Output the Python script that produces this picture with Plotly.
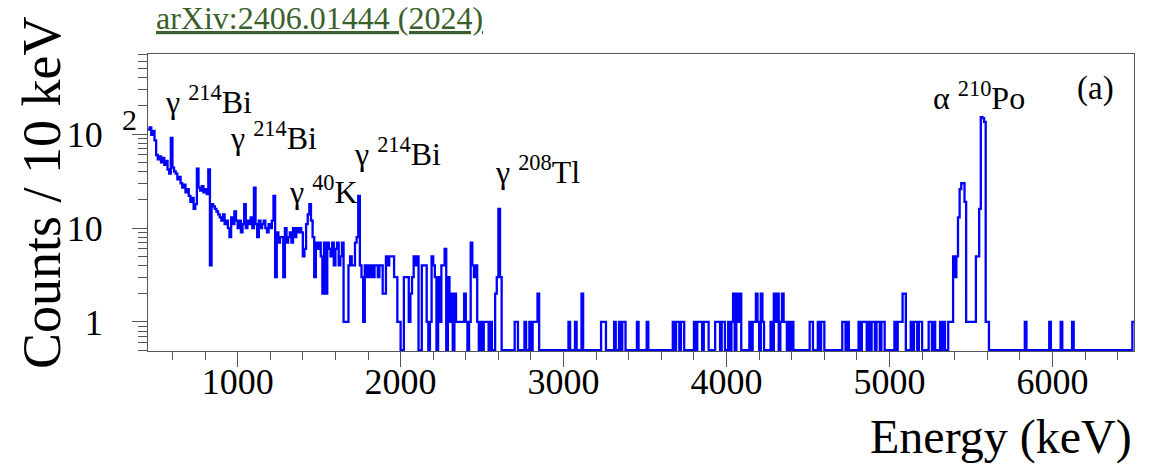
import numpy as np
import plotly.graph_objects as go

# Energy spectrum, 10 keV bins starting at 450 keV
BIN_START = 450
BIN_WIDTH = 10

counts_450_1950 = [
    112, 118, 98, 108, 86, 60, 54, 58, 50, 56,
    47, 52, 42, 38, 91, 44, 40, 38, 33, 35,
    30, 27, 29, 24, 26, 22, 19, 21, 16, 18,
    43, 27, 25, 28, 24, 26, 23, 42, 4, 18,
    17, 16, 15, 14, 13, 12, 14, 11, 12, 10,
    8, 13, 11, 15, 12, 10, 12, 9, 11, 18,
    10, 12, 11, 13, 10, 27, 11, 8, 12, 10,
    11, 12, 10, 9, 11, 10, 12, 22, 3, 9,
    7, 8, 8, 3, 10, 7, 8, 9, 7, 10,
    8, 10, 9, 10, 9, 5, 6, 11, 14, 18,
    12, 8, 3, 7, 6, 7, 5, 2, 7, 2,
    7, 6, 5, 7, 4, 6, 7, 4, 5, 7,
    1, 1, 1, 4, 5, 4, 4, 7, 8, 22,
    4, 3, 1, 4, 3, 4, 3, 4, 3, 4,
    4, 3, 4, 4, 2, 2, 5, 4, 5, 5,
]

counts_1950_3750 = [
    5, 3, 3, 1, 1, 0, 0, 3, 3, 3,
    1, 2, 3, 5, 4, 5, 0, 0, 4, 4,
    4, 1, 0, 1, 5, 4, 3, 0, 3, 1,
    4, 4, 6, 0, 3, 1, 2, 0, 2, 1,
    1, 1, 1, 1, 2, 1, 0, 1, 7, 4,
    3, 4, 1, 0, 1, 0, 1, 1, 1, 0,
    1, 0, 0, 2, 3, 16, 3, 0, 0, 0,
    0, 0, 0, 0, 0, 1, 1, 0, 0, 0,
    0, 1, 0, 0, 1, 0, 1, 1, 1, 2,
    0, 0, 0, 0, 0, 0, 0, 0, 0, 0,
    0, 0, 0, 0, 0, 0, 0, 0, 1, 0,
    0, 0, 1, 0, 0, 0, 2, 0, 0, 0,
    0, 0, 0, 0, 0, 0, 0, 0, 1, 1,
    1, 0, 0, 0, 0, 0, 1, 0, 0, 1,
    0, 1, 1, 0, 0, 0, 0, 0, 0, 0,
    1, 0, 0, 0, 0, 0, 1, 0, 0, 0,
    0, 0, 0, 0, 0, 0, 0, 0, 0, 0,
    0, 0, 1, 0, 1, 1, 0, 1, 1, 0,
]

counts_3750_6500 = [
    0, 0, 0, 0, 0, 1, 0, 1, 1, 1,
    0, 1, 1, 1, 0, 0, 0, 0, 1, 1,
    1, 0, 1, 1, 0, 0, 1, 0, 1, 2,
    0, 2, 1, 2, 0, 0, 0, 0, 0, 1,
    0, 1, 1, 2, 1, 0, 2, 1, 0, 0,
    0, 0, 1, 0, 2, 1, 2, 0, 1, 2,
    1, 1, 0, 1, 0, 1, 0, 0, 0, 0,
    0, 0, 0, 0, 0, 0, 1, 1, 0, 0,
    0, 1, 0, 1, 1, 0, 0, 0, 0, 0,
    0, 0, 0, 0, 0, 0, 1, 1, 0, 1,
    0, 0, 0, 0, 0, 0, 1, 0, 1, 1,
    1, 0, 1, 0, 1, 1, 0, 1, 1, 0,
    1, 1, 0, 0, 0, 0, 0, 0, 1, 0,
    1, 1, 1, 2, 2, 0, 0, 0, 1, 0,
    1, 1, 0, 1, 1, 0, 0, 0, 0, 1,
    1, 0, 1, 0, 0, 0, 1, 0, 1, 0,
    0, 1, 1, 1, 5, 3, 5, 13, 26, 30,
    30, 19, 1, 1, 1, 1, 1, 1, 5, 5,
    16, 152, 148, 135, 1, 1, 0, 0, 0, 0,
    0, 0, 0, 0, 0, 0, 0, 0, 0, 0,
    0, 0, 0, 0, 0, 0, 0, 0, 1, 0,
    0, 0, 0, 0, 0, 0, 0, 0, 0, 0,
    0, 0, 0, 1, 0, 0, 0, 0, 0, 0,
    1, 0, 0, 0, 0, 0, 0, 1, 0, 0,
    0, 0, 0, 0, 0, 0, 0, 0, 0, 0,
    0, 0, 0, 0, 0, 0, 0, 0, 0, 0,
    0, 0, 0, 0, 0, 0, 0, 0, 0, 0,
    0, 0, 0, 0, 1,
]

peak_labels = [
    "γ <sup>214</sup>Bi",
    "γ <sup>214</sup>Bi",
    "γ <sup>40</sup>K",
    "γ <sup>214</sup>Bi",
    "γ <sup>208</sup>Tl",
    "α <sup>210</sup>Po",
]

x_ticks = [1000, 2000, 3000, 4000, 5000, 6000]
y_ticks = [1, 10, 100]
y_tick_text = ["1", "10", "10"]

FONT = "'Liberation Serif', 'Times New Roman', serif"
AXIS_GREY = "#555555"

counts = np.array(counts_450_1950 + counts_1950_3750 + counts_3750_6500, dtype=float)
edges = BIN_START + BIN_WIDTH * np.arange(len(counts) + 1)

y_lo, y_hi = 0.49, 714.0
# empty bins drop to the frame floor, like a ROOT histogram on a log scale
shown = np.where(counts > 0, counts, 0.5)
step_y = np.append(shown, shown[-1])

fig = go.Figure()
fig.add_trace(go.Scatter(
    x=edges, y=step_y, mode="lines",
    line=dict(color="#0000ff", width=2.3, shape="hv"),
    hoverinfo="skip", showlegend=False,
))

minor_y = [v * 10.0 ** d for d in (-1, 0, 1, 2) for v in range(2, 10)]
minor_y = [v for v in minor_y if y_lo < v < y_hi and v not in y_ticks]

fig.update_xaxes(
    range=[BIN_START, edges[-1]],
    tickvals=x_ticks, ticktext=[str(t) for t in x_ticks],
    ticks="outside", ticklen=15, tickwidth=1.3, tickcolor=AXIS_GREY,
    minor=dict(tickmode="linear", tick0=0, dtick=200, ticks="outside",
               ticklen=8, tickwidth=1.3, tickcolor=AXIS_GREY, showgrid=False),
    showline=True, linecolor=AXIS_GREY, linewidth=1.3, mirror=True,
    showgrid=False, zeroline=False,
    tickfont=dict(family=FONT, size=36, color="black"),
    ticklabelstandoff=-16,
)
fig.update_yaxes(
    type="log", range=[np.log10(y_lo), np.log10(y_hi)],
    tickvals=y_ticks, ticktext=y_tick_text,
    ticks="outside", ticklen=15, tickwidth=1.3, tickcolor=AXIS_GREY,
    minor=dict(tickmode="array", tickvals=minor_y, ticks="outside",
               ticklen=9, tickwidth=1.3, tickcolor=AXIS_GREY, showgrid=False),
    showline=True, linecolor=AXIS_GREY, linewidth=1.3, mirror=True,
    showgrid=False, zeroline=False,
    tickfont=dict(family=FONT, size=36, color="black"),
    ticklabelstandoff=22,
)

annotations = []
# peak labels: (left edge in keV, vertical centre in counts)
label_spots = [(540, 232), (940, 96), (1303, 25.5), (1702, 65), (2569, 41.6), (5255, 257)]
for text, (ex, cy) in zip(peak_labels, label_spots):
    annotations.append(dict(
        x=ex, y=np.log10(cy), xref="x", yref="y", text=text, showarrow=False,
        xanchor="left", yanchor="middle",
        font=dict(family=FONT, size=32, color="black"),
    ))

# exponent of the 10^2 tick label
annotations.append(dict(
    x=-0.0185, y=np.log10(145), xref="paper", yref="y", text="2", showarrow=False,
    xanchor="center", yanchor="middle", font=dict(family=FONT, size=30, color="black"),
))
annotations.append(dict(
    x=0.940, y=0.883, xref="paper", yref="paper", text="(a)", showarrow=False,
    xanchor="left", yanchor="middle", font=dict(family=FONT, size=33, color="black"),
))
annotations.append(dict(
    x=1.0, y=-0.291, xref="paper", yref="paper", text="Energy (keV)", showarrow=False,
    xanchor="right", yanchor="middle", font=dict(family=FONT, size=48, color="black"),
))
annotations.append(dict(
    x=-0.1075, y=0.532, xref="paper", yref="paper", text="Counts / 10 keV",
    textangle=-90, showarrow=False,
    xanchor="center", yanchor="middle", font=dict(family=FONT, size=54, color="black"),
))
annotations.append(dict(
    x=0.006, y=1.121, xref="paper", yref="paper",
    text="<u>arXiv:2406.01444 (2024)</u>", showarrow=False,
    xanchor="left", yanchor="middle", font=dict(family=FONT, size=32, color="#3b5f2c"),
))

fig.update_layout(
    width=1160, height=464,
    margin=dict(l=148, r=26, t=54, b=113),
    paper_bgcolor="white", plot_bgcolor="white",
    font=dict(family=FONT, color="black"),
    annotations=annotations,
    showlegend=False,
)

fig.write_html("out.html")
